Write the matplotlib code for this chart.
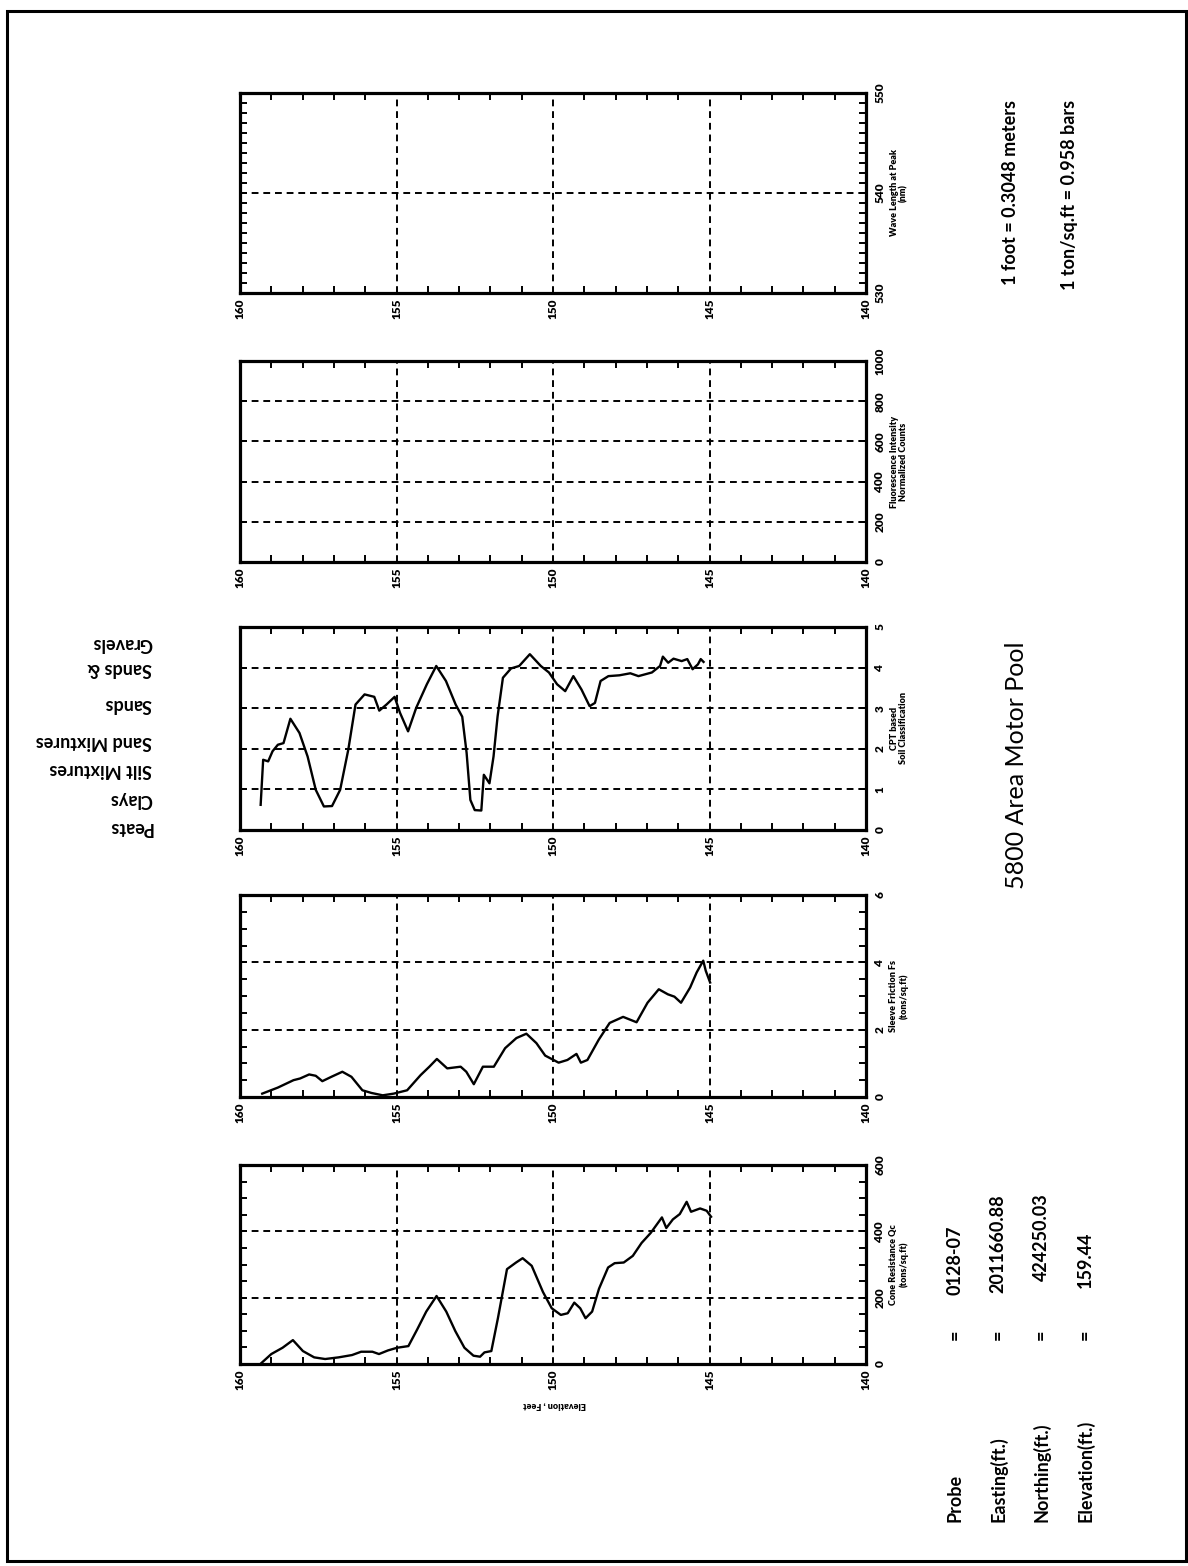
import numpy as np
import matplotlib.pyplot as plt
from matplotlib.patches import Rectangle
from matplotlib.ticker import MultipleLocator, NullLocator
from matplotlib.transforms import blended_transform_factory

plt.rcParams['font.family'] = ['Lato', 'DejaVu Sans']

W, H = 1188, 1566

# ── DATA ─────────────────────────────────────────────────────
# cone resistance Qc (tons/sq.ft) vs elevation (ft)
qc_elev = [159.35, 159.0, 158.64, 158.31, 157.99, 157.63, 157.28, 156.85, 156.42, 156.13,
           155.77, 155.56, 155.27, 154.98, 154.62, 154.34, 154.05, 153.72, 153.41, 153.12,
           152.83, 152.54, 152.33, 152.19, 151.97, 151.76, 151.47, 151.18, 150.97, 150.68,
           150.32, 150.04, 149.75, 149.53, 149.32, 149.13, 148.96, 148.75, 148.53, 148.24,
           148.03, 147.74, 147.45, 147.17, 146.88, 146.52, 146.38, 146.17, 145.95, 145.73,
           145.59, 145.30, 145.09, 144.95]
qc_val = [0, 30, 49, 72, 39, 20, 15, 20, 27, 37,
          37, 30, 41, 49, 54, 104, 158, 205, 158, 99,
          49, 25, 22, 35, 39, 138, 286, 306, 319, 296,
          217, 168, 148, 153, 185, 168, 138, 158, 227, 291,
          304, 306, 326, 365, 395, 442, 410, 436, 452, 489,
          459, 469, 462, 444]

# sleeve friction Fs (tons/sq.ft)
fs_elev = [159.29, 158.79, 158.29, 158.08, 157.79, 157.58, 157.37, 157.08, 156.73, 156.44,
           156.09, 155.80, 155.44, 155.09, 154.66, 154.23, 153.95, 153.71, 153.38, 152.95,
           152.77, 152.53, 152.24, 151.89, 151.53, 151.17, 150.85, 150.53, 150.25, 149.82,
           149.54, 149.25, 149.11, 148.90, 148.54, 148.19, 147.76, 147.33, 146.98, 146.62,
           146.33, 146.12, 145.91, 145.62, 145.41, 145.20, 145.12, 144.98]
fs_val = [0.10, 0.28, 0.50, 0.55, 0.67, 0.63, 0.47, 0.60, 0.75, 0.60,
          0.20, 0.12, 0.05, 0.10, 0.20, 0.65, 0.90, 1.13, 0.85, 0.90,
          0.75, 0.38, 0.90, 0.90, 1.45, 1.75, 1.88, 1.60, 1.23, 1.02,
          1.10, 1.28, 1.02, 1.10, 1.70, 2.20, 2.38, 2.22, 2.80, 3.20,
          3.05, 2.98, 2.80, 3.25, 3.70, 4.05, 3.75, 3.40]

# CPT based soil classification
sc_elev = [159.34, 159.26, 159.10, 158.96, 158.79, 158.61, 158.39, 158.10, 157.84, 157.58,
           157.32, 157.06, 156.80, 156.54, 156.31, 156.02, 155.71, 155.55, 155.32, 155.06,
           154.89, 154.63, 154.37, 154.03, 153.73, 153.42, 153.11, 152.90, 152.76, 152.64,
           152.50, 152.29, 152.21, 152.03, 151.90, 151.77, 151.60, 151.34, 151.08, 150.74,
           150.39, 150.13, 149.87, 149.61, 149.35, 149.09, 148.83, 148.66, 148.48, 148.23,
           147.88, 147.53, 147.27, 146.84, 146.58, 146.49, 146.32, 146.15, 145.89, 145.71,
           145.54, 145.37, 145.28, 145.19]
sc_val = [0.62, 1.73, 1.69, 1.94, 2.10, 2.14, 2.74, 2.39, 1.81, 0.99,
          0.58, 0.59, 0.99, 1.98, 3.09, 3.34, 3.28, 2.94, 3.09, 3.28,
          2.89, 2.43, 3.01, 3.59, 4.04, 3.67, 3.09, 2.79, 1.90, 0.74,
          0.49, 0.48, 1.36, 1.15, 1.81, 2.80, 3.75, 3.98, 4.04, 4.33,
          4.04, 3.88, 3.59, 3.42, 3.79, 3.46, 3.05, 3.13, 3.67, 3.79,
          3.81, 3.86, 3.79, 3.88, 4.04, 4.27, 4.12, 4.22, 4.16, 4.21,
          3.96, 4.08, 4.21, 4.14]

soil_names = ['Peats', 'Clays', 'Silt Mixtures', 'Sand Mixtures', 'Sands', 'Sands &', 'Gravels']
soil_pos = [0.05, 0.74, 1.48, 2.17, 3.08, 3.99, 4.6]

elev_ticks = [160, 155, 150, 145, 140]

probe_keys = ['Probe', 'Easting(ft.)', 'Northing(ft.)', 'Elevation(ft.)']
probe_vals = ['0128-07', '2011660.88', '424250.03', '159.44']

# panels, bottom to top: (x, y, ylim, major, minor, axis label)
panels = [
    (qc_elev, qc_val, (0, 600), 200, 50, 'Cone Resistance Qc\n(tons/sq.ft)'),
    (fs_elev, fs_val, (0, 6), 2, 0.5, 'Sleeve Friction Fs\n(tons/sq.ft)'),
    (sc_elev, sc_val, (0, 5), 1, None, 'CPT based\nSoil Classification'),
    (None, None, (0, 1000), 200, None, 'Fluorescence Intensity\nNormalized Counts'),
    (None, None, (530, 550), 10, 1, 'Wave Length at Peak\n(nm)'),
]
# pixel boxes (top, bottom)
boxes = [(1165, 1364), (895, 1097), (627, 830), (361, 562), (93, 293)]
X0, X1 = 240, 866

fig = plt.figure(figsize=(W / 100, H / 100), dpi=100)


def fx(px):
    return px / W


def fy(py):
    return 1 - py / H


axes = []
for (ex, vy, ylim, major, minor, lab), (top, bot) in zip(panels, boxes):
    ax = fig.add_axes([fx(X0), fy(bot), (X1 - X0) / W, (bot - top) / H])
    ax.set_xlim(160, 140)
    ax.set_ylim(*ylim)
    ax.set_xticks(elev_ticks)
    ax.set_xticklabels([str(t) for t in elev_ticks], rotation=90,
                       fontsize=8.5, fontweight='heavy')
    ax.xaxis.set_minor_locator(MultipleLocator(1))
    ax.yaxis.set_major_locator(MultipleLocator(major))
    if minor:
        ax.yaxis.set_minor_locator(MultipleLocator(minor))
    else:
        ax.yaxis.set_minor_locator(NullLocator())
    ax.yaxis.tick_right()
    for t in ax.get_yticklabels():
        t.set_rotation(90)
        t.set_fontsize(8.5)
        t.set_fontweight('heavy')
        t.set_va('center')
    ax.tick_params(axis='x', which='major', length=0, pad=4)
    ax.tick_params(axis='x', which='minor', direction='in', length=5, width=1.4,
                   top=True, bottom=True)
    ax.tick_params(axis='y', which='major', direction='in', length=5, width=1.4,
                   left=True, right=True, pad=6)
    ax.tick_params(axis='y', which='minor', direction='in', length=5, width=1.4,
                   left=True, right=True)
    ax.grid(True, which='major', color='k', linestyle=(0, (3.5, 2.5)), linewidth=1.4)
    for s in ax.spines.values():
        s.set_linewidth(2.3)
    if ex is not None:
        ax.plot(ex, vy, color='k', linewidth=1.7)
    fig.text(fx(899), fy((top + bot) / 2), lab, rotation=90, ha='center', va='center',
             fontsize=6.5, fontweight='heavy', linespacing=1.1)
    axes.append(ax)

# soil class names, printed upside down left of the classification panel
tr = blended_transform_factory(fig.transFigure, axes[2].transData)
for name, pos in zip(soil_names, soil_pos):
    axes[2].text(fx(152), pos, name, transform=tr, rotation=180, rotation_mode='anchor',
                 ha='left', va='center', fontsize=13, fontweight='bold')

fig.text(fx(555), fy(1405), 'Elevation , Feet', rotation=180, rotation_mode='anchor',
         ha='center', va='center', fontsize=6.5, fontweight='heavy')

fig.text(fx(1016), fy(765), '5800 Area Motor Pool', rotation=90, ha='center',
         va='center', fontsize=18)
fig.text(fx(1010), fy(285), '1 foot = 0.3048 meters', rotation=90, rotation_mode='anchor',
         ha='left', va='center', fontsize=13, fontweight='bold')
fig.text(fx(1070), fy(290), '1 ton/sq.ft = 0.958 bars', rotation=90, rotation_mode='anchor',
         ha='left', va='center', fontsize=13, fontweight='bold')

key_x = [955, 998, 1041, 1085]
val_c = [1260, 1244, 1237, 1260]
for kx, k, v, vc in zip(key_x, probe_keys, probe_vals, val_c):
    fig.text(fx(kx), fy(1522), k, rotation=90, rotation_mode='anchor',
             ha='left', va='center', fontsize=13, fontweight='bold')
    fig.text(fx(kx), fy(1335), '=', rotation=90, rotation_mode='anchor',
             ha='center', va='center', fontsize=13, fontweight='bold')
    fig.text(fx(kx), fy(vc), v, rotation=90, rotation_mode='anchor',
             ha='center', va='center', fontsize=13, fontweight='bold')

# page frame
fig.add_artist(Rectangle((fx(7), fy(1561)), (1186 - 7) / W, (1561 - 11) / H,
                         transform=fig.transFigure, fill=False, linewidth=2.2,
                         edgecolor='k'))

fig.savefig('out.png', dpi=100)
